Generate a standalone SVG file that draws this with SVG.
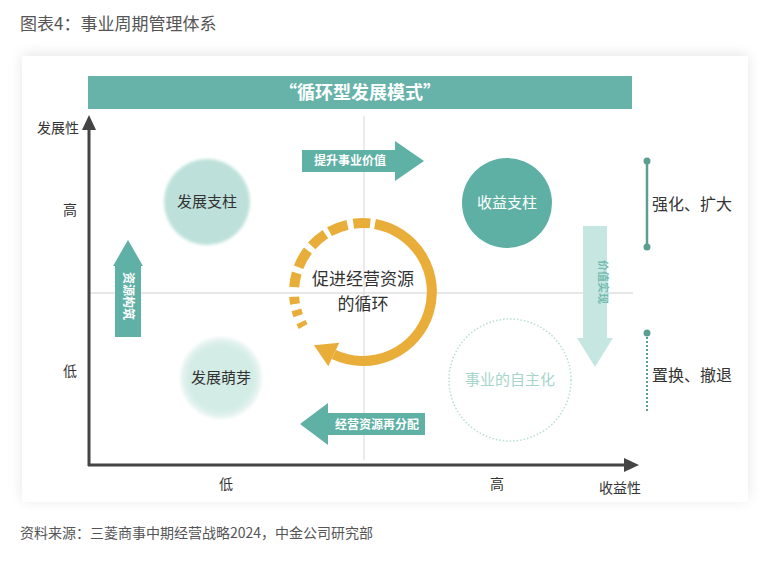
<svg xmlns="http://www.w3.org/2000/svg" width="770" height="562" viewBox="0 0 770 562">
  <defs>
    <style>
      text { font-family: "Noto Sans CJK SC", "Noto Sans", sans-serif; }
      .cap { fill: #555; }
      .ax { fill: #333; font-size: 14px; }
      .node { font-size: 15px; text-anchor: middle; }
      .arrtxt { fill: #fff; font-size: 12px; font-weight: bold; text-anchor: middle; }
      .orange { fill: none; stroke: #e9ae3a; stroke-width: 10; }
      .teal { fill: #5fb0a5; }
    </style>
    <filter id="shadow" x="-5%" y="-5%" width="110%" height="110%">
      <feGaussianBlur in="SourceAlpha" stdDeviation="7"/>
      <feOffset dy="-2"/>
      <feComponentTransfer><feFuncA type="linear" slope="0.1"/></feComponentTransfer>
      <feMerge><feMergeNode/><feMergeNode in="SourceGraphic"/></feMerge>
    </filter>
    <filter id="soft" x="-20%" y="-20%" width="140%" height="140%">
      <feGaussianBlur stdDeviation="1.6"/>
    </filter>
    <radialGradient id="sprout" cx="0.5" cy="0.5" r="0.5">
      <stop offset="0" stop-color="#d2ebe5"/>
      <stop offset="0.8" stop-color="#d4ece6"/>
      <stop offset="1" stop-color="#eef7f5"/>
    </radialGradient>
  </defs>

  <rect width="770" height="562" fill="#fff"/>
  <text class="cap" x="20" y="30" font-size="17">图表4：事业周期管理体系</text>

  <rect x="22" y="56" width="726" height="446" fill="#fff" filter="url(#shadow)"/>

  <g id="banner">
    <rect x="88" y="76" width="544" height="33" fill="#67b3aa"/>
    <text x="360" y="99" fill="#fff" font-size="18" font-weight="bold" text-anchor="middle">“循环型发展模式”</text>
  </g>

  <g id="axes">
    <line x1="89" y1="293" x2="633" y2="293" stroke="#cfcfcf" stroke-width="1"/>
    <line x1="364" y1="116" x2="364" y2="460" stroke="#d6d6d6" stroke-width="1"/>
    <line x1="89" y1="126" x2="89" y2="466" stroke="#444" stroke-width="3"/>
    <line x1="88" y1="465" x2="628" y2="465" stroke="#444" stroke-width="3"/>
    <polygon points="89,115 82,130 96,130" fill="#444"/>
    <polygon points="639,465 624,458 624,472" fill="#444"/>
    <text class="ax" x="37" y="133" font-size="13">发展性</text>
    <text class="ax" x="63" y="215">高</text>
    <text class="ax" x="63" y="376">低</text>
    <text class="ax" x="219" y="489">低</text>
    <text class="ax" x="490" y="489">高</text>
    <text class="ax" x="599" y="493" font-size="13">收益性</text>
  </g>

  <g id="node-growth-pillar">
    <circle cx="207" cy="202" r="43" fill="#bde1da" filter="url(#soft)"/>
    <text class="node" x="207" y="207" fill="#333">发展支柱</text>
  </g>
  <g id="node-profit-pillar">
    <circle cx="507" cy="203" r="45" fill="#5fb0a4"/>
    <text class="node" x="507" y="208" fill="#fff">收益支柱</text>
  </g>
  <g id="node-sprout">
    <circle cx="221" cy="378" r="41" fill="url(#sprout)" filter="url(#soft)"/>
    <text class="node" x="221" y="383" fill="#333">发展萌芽</text>
  </g>
  <g id="node-autonomy">
    <circle cx="510" cy="380" r="61" fill="none" stroke="#b8ded6" stroke-width="1.5" stroke-dasharray="1.5,2"/>
    <text class="node" x="510" y="385" fill="#a6d4ca">事业的自主化</text>
  </g>

  <g id="node-cycle">
    <path class="orange" d="M375.0 224.0 A69 69 0 1 1 333.8 354.5"/>
    <polygon points="313.9,345.2 328.3,366.3 339.3,342.7" fill="#e9ae3a"/>
    <path class="orange" d="M353.4 223.7 A69 69 0 0 1 370.2 223.4"/>
    <path class="orange" d="M329.5 231.7 A69 69 0 0 1 347.5 224.8"/>
    <path class="orange" d="M311.7 245.8 A69 69 0 0 1 325.4 234.1"/>
    <path class="orange" d="M298.6 267.3 A69 69 0 0 1 307.9 250.5"/>
    <path class="orange" d="M294.2 287.2 A69 69 0 0 1 296.7 273.0"/>
    <path class="orange" d="M295.0 304.0 A69 69 0 0 1 294.2 296.8"/>
    <path class="orange" d="M298.2 315.6 A69 69 0 0 1 296.4 309.9"/>
    <path class="orange" d="M303.2 326.5 A69 69 0 0 1 301.0 322.2"/>
    <text x="363" y="285" fill="#333" font-size="17" text-anchor="middle">促进经营资源</text>
    <text x="363" y="310" fill="#333" font-size="17" text-anchor="middle">的循环</text>
  </g>

  <g id="connectors">
    <g id="arrow-value-up">
      <polygon class="teal" points="302,150 395,150 395,141 424,161 395,181 395,172 302,172"/>
      <text class="arrtxt" x="350" y="165">提升事业价值</text>
    </g>
    <g id="arrow-reallocate">
      <polygon class="teal" points="300,424 328,403 328,413 425,413 425,435 328,435 328,445"/>
      <text class="arrtxt" x="377" y="429">经营资源再分配</text>
    </g>
    <g id="arrow-resource-build">
      <polygon class="teal" points="128,240 143,266 141,266 141,337 115,337 115,266 113,266"/>
      <text class="arrtxt" transform="translate(124,296) rotate(90)" font-size="11">资源构筑</text>
    </g>
    <g id="arrow-value-realize">
      <polygon fill="#c6e7e1" points="583,226 607,226 607,338 613,338 595,367 577,338 583,338"/>
      <text transform="translate(599,282) rotate(90)" fill="#74bbb0" font-size="11" font-weight="bold" text-anchor="middle">价值实现</text>
    </g>
  </g>

  <g id="side-labels">
    <line x1="647" y1="161" x2="647" y2="247" stroke="#5a9f92" stroke-width="2.5"/>
    <circle cx="647" cy="161" r="3.5" fill="#5a9f92"/>
    <circle cx="647" cy="247" r="3.5" fill="#5a9f92"/>
    <text x="652" y="210" fill="#333" font-size="16">强化、扩大</text>
    <line x1="647" y1="333" x2="647" y2="412" stroke="#5a9f92" stroke-width="2" stroke-dasharray="2,2"/>
    <circle cx="647" cy="333" r="3.5" fill="#5a9f92"/>
    <text x="652" y="381" fill="#333" font-size="16">置换、撤退</text>
  </g>

  <text class="cap" x="20" y="538" font-size="14">资料来源：三菱商事中期经营战略2024，中金公司研究部</text>
</svg>
